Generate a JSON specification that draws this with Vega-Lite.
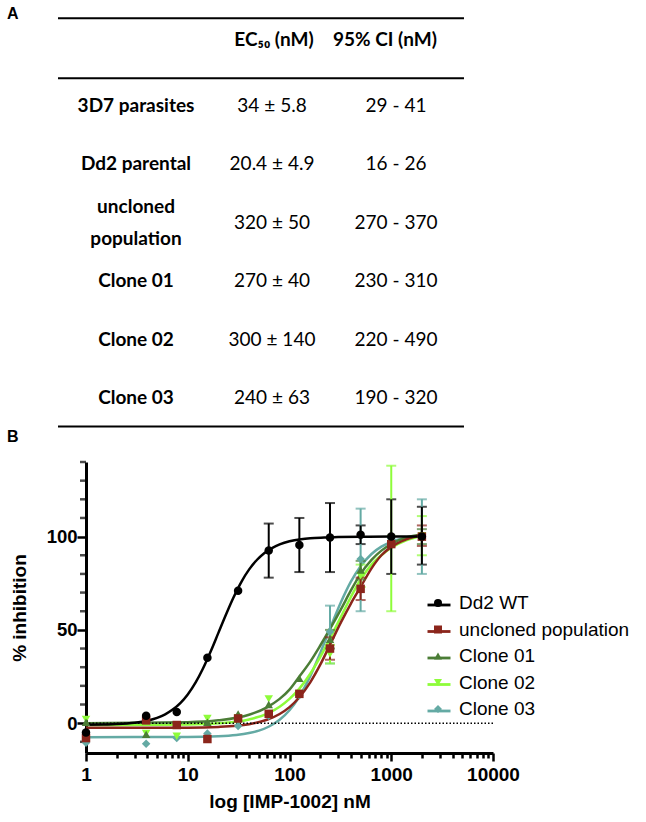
{
  "$schema": "https://vega.github.io/schema/vega-lite/v6.json",
  "background": "white",
  "padding": {"left": 7, "top": 0, "right": 5, "bottom": 5},
  "config": {"view": {"stroke": null}, "axis": {"labelOverlap": false, "labelFlush": false}},
  "spacing": 0,
  "bounds": "flush",
  "resolve": {"scale": {"x": "independent", "y": "independent"}},
  "datasets": {
    "table": [
      {"label": "3D7 parasites", "ec50": "34 ± 5.8", "ci": "29 - 41", "row": 1},
      {"label": "Dd2 parental", "ec50": "20.4 ± 4.9", "ci": "16 - 26", "row": 2},
      {"label": "uncloned\npopulation", "ec50": "320 ± 50", "ci": "270 - 370", "row": 3},
      {"label": "Clone 01", "ec50": "270 ± 40", "ci": "230 - 310", "row": 4},
      {"label": "Clone 02", "ec50": "300 ± 140", "ci": "220 - 490", "row": 5},
      {"label": "Clone 03", "ec50": "240 ± 63", "ci": "190 - 320", "row": 6}
    ],
    "points": [
      {"series": "Clone 03", "conc": 1, "mean": -10.5, "lo": null, "hi": null},
      {"series": "Clone 03", "conc": 3.9, "mean": -11, "lo": null, "hi": null},
      {"series": "Clone 03", "conc": 7.8, "mean": -8, "lo": null, "hi": null},
      {"series": "Clone 03", "conc": 15.6, "mean": -5.5, "lo": null, "hi": null},
      {"series": "Clone 03", "conc": 31.25, "mean": -1.5, "lo": null, "hi": null},
      {"series": "Clone 03", "conc": 62.5, "mean": 4, "lo": null, "hi": null},
      {"series": "Clone 03", "conc": 125, "mean": 15, "lo": null, "hi": null},
      {"series": "Clone 03", "conc": 250, "mean": 49, "lo": 32, "hi": 63},
      {"series": "Clone 03", "conc": 500, "mean": 88, "lo": 60, "hi": 115},
      {"series": "Clone 03", "conc": 1000, "mean": 99, "lo": null, "hi": null},
      {"series": "Clone 03", "conc": 2000, "mean": 100, "lo": 80, "hi": 120},
      {"series": "Clone 02", "conc": 1, "mean": 2, "lo": null, "hi": null},
      {"series": "Clone 02", "conc": 3.9, "mean": -5.5, "lo": null, "hi": null},
      {"series": "Clone 02", "conc": 7.8, "mean": -7, "lo": null, "hi": null},
      {"series": "Clone 02", "conc": 15.6, "mean": 2.5, "lo": null, "hi": null},
      {"series": "Clone 02", "conc": 31.25, "mean": 3, "lo": null, "hi": null},
      {"series": "Clone 02", "conc": 62.5, "mean": 13, "lo": null, "hi": null},
      {"series": "Clone 02", "conc": 125, "mean": 16, "lo": null, "hi": null},
      {"series": "Clone 02", "conc": 250, "mean": 37, "lo": 32, "hi": 42},
      {"series": "Clone 02", "conc": 500, "mean": 79, "lo": 73, "hi": 85},
      {"series": "Clone 02", "conc": 1000, "mean": 99, "lo": 60, "hi": 138},
      {"series": "Clone 02", "conc": 2000, "mean": 100.5, "lo": 90, "hi": 111},
      {"series": "Clone 01", "conc": 1, "mean": 0.5, "lo": null, "hi": null},
      {"series": "Clone 01", "conc": 3.9, "mean": -6, "lo": null, "hi": null},
      {"series": "Clone 01", "conc": 7.8, "mean": -1, "lo": null, "hi": null},
      {"series": "Clone 01", "conc": 15.6, "mean": 0.5, "lo": null, "hi": null},
      {"series": "Clone 01", "conc": 31.25, "mean": 5, "lo": null, "hi": null},
      {"series": "Clone 01", "conc": 62.5, "mean": 10, "lo": null, "hi": null},
      {"series": "Clone 01", "conc": 125, "mean": 24, "lo": null, "hi": null},
      {"series": "Clone 01", "conc": 250, "mean": 45, "lo": 40, "hi": 50},
      {"series": "Clone 01", "conc": 500, "mean": 82, "lo": 77, "hi": 87},
      {"series": "Clone 01", "conc": 1000, "mean": 98, "lo": null, "hi": null},
      {"series": "Clone 01", "conc": 2000, "mean": 100, "lo": 96, "hi": 104},
      {"series": "uncloned population", "conc": 1, "mean": -8, "lo": null, "hi": null},
      {"series": "uncloned population", "conc": 3.9, "mean": 1.5, "lo": null, "hi": null},
      {"series": "uncloned population", "conc": 7.8, "mean": -1, "lo": null, "hi": null},
      {"series": "uncloned population", "conc": 15.6, "mean": -8.5, "lo": null, "hi": null},
      {"series": "uncloned population", "conc": 31.25, "mean": 2.5, "lo": null, "hi": null},
      {"series": "uncloned population", "conc": 62.5, "mean": 5, "lo": null, "hi": null},
      {"series": "uncloned population", "conc": 125, "mean": 15.7, "lo": null, "hi": null},
      {"series": "uncloned population", "conc": 250, "mean": 40, "lo": 34, "hi": 46},
      {"series": "uncloned population", "conc": 500, "mean": 72, "lo": 66, "hi": 78},
      {"series": "uncloned population", "conc": 1000, "mean": 96, "lo": null, "hi": null},
      {"series": "uncloned population", "conc": 2000, "mean": 100, "lo": 95, "hi": 106},
      {"series": "Dd2 WT", "conc": 1, "mean": -5, "lo": null, "hi": null},
      {"series": "Dd2 WT", "conc": 3.9, "mean": 4, "lo": null, "hi": null},
      {"series": "Dd2 WT", "conc": 7.8, "mean": 6, "lo": null, "hi": null},
      {"series": "Dd2 WT", "conc": 15.6, "mean": 35, "lo": null, "hi": null},
      {"series": "Dd2 WT", "conc": 31.25, "mean": 71, "lo": null, "hi": null},
      {"series": "Dd2 WT", "conc": 62.5, "mean": 92.5, "lo": 78, "hi": 107},
      {"series": "Dd2 WT", "conc": 125, "mean": 95.5, "lo": 81, "hi": 110},
      {"series": "Dd2 WT", "conc": 250, "mean": 99.5, "lo": 81, "hi": 118},
      {"series": "Dd2 WT", "conc": 500, "mean": 101, "lo": 96, "hi": 106},
      {"series": "Dd2 WT", "conc": 1000, "mean": 100, "lo": 80, "hi": 120},
      {"series": "Dd2 WT", "conc": 2000, "mean": 100, "lo": 85, "hi": 116}
    ],
    "curves": [
      {"series": "Clone 03", "conc": 1, "fit": -7.5},
      {"series": "Clone 03", "conc": 10, "fit": -7.4},
      {"series": "Clone 03", "conc": 20, "fit": -7},
      {"series": "Clone 03", "conc": 30, "fit": -6.3},
      {"series": "Clone 03", "conc": 40, "fit": -5.3},
      {"series": "Clone 03", "conc": 50, "fit": -4},
      {"series": "Clone 03", "conc": 63, "fit": -1.8},
      {"series": "Clone 03", "conc": 80, "fit": 1.8},
      {"series": "Clone 03", "conc": 100, "fit": 6.9},
      {"series": "Clone 03", "conc": 125, "fit": 14.3},
      {"series": "Clone 03", "conc": 160, "fit": 25.2},
      {"series": "Clone 03", "conc": 200, "fit": 37.4},
      {"series": "Clone 03", "conc": 250, "fit": 50.7},
      {"series": "Clone 03", "conc": 320, "fit": 64.8},
      {"series": "Clone 03", "conc": 400, "fit": 75.7},
      {"series": "Clone 03", "conc": 500, "fit": 84.1},
      {"series": "Clone 03", "conc": 640, "fit": 90.7},
      {"series": "Clone 03", "conc": 800, "fit": 94.6},
      {"series": "Clone 03", "conc": 1000, "fit": 97.2},
      {"series": "Clone 03", "conc": 1400, "fit": 99.4},
      {"series": "Clone 03", "conc": 2000, "fit": 100.5},
      {"series": "Clone 02", "conc": 1, "fit": -1},
      {"series": "Clone 02", "conc": 10, "fit": -0.7},
      {"series": "Clone 02", "conc": 20, "fit": -0.1},
      {"series": "Clone 02", "conc": 40, "fit": 2},
      {"series": "Clone 02", "conc": 60, "fit": 5},
      {"series": "Clone 02", "conc": 80, "fit": 8.8},
      {"series": "Clone 02", "conc": 100, "fit": 13},
      {"series": "Clone 02", "conc": 125, "fit": 18.5},
      {"series": "Clone 02", "conc": 160, "fit": 26.5},
      {"series": "Clone 02", "conc": 200, "fit": 35.4},
      {"series": "Clone 02", "conc": 250, "fit": 45.3},
      {"series": "Clone 02", "conc": 320, "fit": 57},
      {"series": "Clone 02", "conc": 400, "fit": 67.5},
      {"series": "Clone 02", "conc": 500, "fit": 77},
      {"series": "Clone 02", "conc": 640, "fit": 85},
      {"series": "Clone 02", "conc": 800, "fit": 90},
      {"series": "Clone 02", "conc": 1000, "fit": 94},
      {"series": "Clone 02", "conc": 1400, "fit": 98},
      {"series": "Clone 02", "conc": 2000, "fit": 100.5},
      {"series": "Clone 01", "conc": 1, "fit": 0},
      {"series": "Clone 01", "conc": 10, "fit": 0.5},
      {"series": "Clone 01", "conc": 20, "fit": 1.5},
      {"series": "Clone 01", "conc": 40, "fit": 4.5},
      {"series": "Clone 01", "conc": 60, "fit": 8.5},
      {"series": "Clone 01", "conc": 80, "fit": 13},
      {"series": "Clone 01", "conc": 100, "fit": 18},
      {"series": "Clone 01", "conc": 125, "fit": 25},
      {"series": "Clone 01", "conc": 160, "fit": 33},
      {"series": "Clone 01", "conc": 200, "fit": 41.5},
      {"series": "Clone 01", "conc": 250, "fit": 50.5},
      {"series": "Clone 01", "conc": 320, "fit": 61},
      {"series": "Clone 01", "conc": 400, "fit": 71},
      {"series": "Clone 01", "conc": 500, "fit": 80},
      {"series": "Clone 01", "conc": 640, "fit": 87.5},
      {"series": "Clone 01", "conc": 800, "fit": 92.5},
      {"series": "Clone 01", "conc": 1000, "fit": 96},
      {"series": "Clone 01", "conc": 1400, "fit": 99.5},
      {"series": "Clone 01", "conc": 2000, "fit": 101},
      {"series": "uncloned population", "conc": 1, "fit": -2.5},
      {"series": "uncloned population", "conc": 10, "fit": -2.4},
      {"series": "uncloned population", "conc": 20, "fit": -2},
      {"series": "uncloned population", "conc": 40, "fit": -0.55},
      {"series": "uncloned population", "conc": 60, "fit": 1.8},
      {"series": "uncloned population", "conc": 80, "fit": 4.9},
      {"series": "uncloned population", "conc": 100, "fit": 8.6},
      {"series": "uncloned population", "conc": 125, "fit": 13.9},
      {"series": "uncloned population", "conc": 160, "fit": 21.9},
      {"series": "uncloned population", "conc": 200, "fit": 31.2},
      {"series": "uncloned population", "conc": 250, "fit": 42},
      {"series": "uncloned population", "conc": 320, "fit": 54},
      {"series": "uncloned population", "conc": 400, "fit": 64},
      {"series": "uncloned population", "conc": 500, "fit": 73},
      {"series": "uncloned population", "conc": 640, "fit": 83},
      {"series": "uncloned population", "conc": 800, "fit": 90},
      {"series": "uncloned population", "conc": 1000, "fit": 94.5},
      {"series": "uncloned population", "conc": 1400, "fit": 98.5},
      {"series": "uncloned population", "conc": 2000, "fit": 101},
      {"series": "Dd2 WT", "conc": 1, "fit": -0.9},
      {"series": "Dd2 WT", "conc": 1.5, "fit": -0.7},
      {"series": "Dd2 WT", "conc": 2, "fit": -0.5},
      {"series": "Dd2 WT", "conc": 3, "fit": 0.2},
      {"series": "Dd2 WT", "conc": 4, "fit": 1.3},
      {"series": "Dd2 WT", "conc": 5, "fit": 2.8},
      {"series": "Dd2 WT", "conc": 6, "fit": 4.7},
      {"series": "Dd2 WT", "conc": 7, "fit": 7},
      {"series": "Dd2 WT", "conc": 8.5, "fit": 10.9},
      {"series": "Dd2 WT", "conc": 10, "fit": 15.4},
      {"series": "Dd2 WT", "conc": 12, "fit": 22},
      {"series": "Dd2 WT", "conc": 14, "fit": 28.9},
      {"series": "Dd2 WT", "conc": 17, "fit": 39.1},
      {"series": "Dd2 WT", "conc": 20, "fit": 48.4},
      {"series": "Dd2 WT", "conc": 24, "fit": 58.8},
      {"series": "Dd2 WT", "conc": 28, "fit": 67.1},
      {"series": "Dd2 WT", "conc": 34, "fit": 76.2},
      {"series": "Dd2 WT", "conc": 40, "fit": 82.3},
      {"series": "Dd2 WT", "conc": 48, "fit": 87.6},
      {"series": "Dd2 WT", "conc": 56, "fit": 91},
      {"series": "Dd2 WT", "conc": 68, "fit": 94},
      {"series": "Dd2 WT", "conc": 80, "fit": 95.8},
      {"series": "Dd2 WT", "conc": 100, "fit": 97.5},
      {"series": "Dd2 WT", "conc": 130, "fit": 98.6},
      {"series": "Dd2 WT", "conc": 160, "fit": 99.1},
      {"series": "Dd2 WT", "conc": 220, "fit": 99.5},
      {"series": "Dd2 WT", "conc": 300, "fit": 99.8},
      {"series": "Dd2 WT", "conc": 500, "fit": 99.9},
      {"series": "Dd2 WT", "conc": 1000, "fit": 100},
      {"series": "Dd2 WT", "conc": 2000, "fit": 100}
    ]
  },
  "vconcat": [
    {
      "width": 407,
      "height": 462,
      "data": {"name": "table"},
      "layer": [
        {
          "data": {"values": [{"k": "rule"}]},
          "mark": {"type": "rule", "color": "black", "strokeWidth": 2},
          "encoding": {
            "x": {"datum": -0.0688, "type": "quantitative", "scale": {"domain": [0, 1], "nice": false, "zero": false}, "axis": null},
            "x2": {"datum": 0.9287},
            "y": {"datum": -0.502, "type": "quantitative", "scale": {"domain": [-0.815, 7.096], "reverse": true, "nice": false, "zero": false}, "axis": null}
          }
        },
        {
          "data": {"values": [{"k": "rule"}]},
          "mark": {"type": "rule", "color": "black", "strokeWidth": 2},
          "encoding": {
            "x": {"datum": -0.0688, "type": "quantitative", "axis": null},
            "x2": {"datum": 0.9287},
            "y": {"datum": 0.526, "type": "quantitative", "axis": null}
          }
        },
        {
          "data": {"values": [{"k": "rule"}]},
          "mark": {"type": "rule", "color": "black", "strokeWidth": 2},
          "encoding": {
            "x": {"datum": -0.0688, "type": "quantitative", "axis": null},
            "x2": {"datum": 0.9287},
            "y": {"datum": 6.49, "type": "quantitative", "axis": null}
          }
        },
        {
          "data": {"values": [{"k": "head"}]},
          "mark": {"type": "text", "font": "Lato", "fontWeight": "bold", "fontSize": 19, "align": "center", "baseline": "middle", "color": "black"},
          "encoding": {
            "text": {"value": "EC₅₀ (nM)"},
            "x": {"datum": 0.462, "type": "quantitative", "axis": null},
            "y": {"datum": -0.13, "type": "quantitative", "axis": null}
          }
        },
        {
          "data": {"values": [{"k": "head"}]},
          "mark": {"type": "text", "font": "Lato", "fontWeight": "bold", "fontSize": 19, "align": "center", "baseline": "middle", "color": "black"},
          "encoding": {
            "text": {"value": "95% CI (nM)"},
            "x": {"datum": 0.7346, "type": "quantitative", "axis": null},
            "y": {"datum": -0.13, "type": "quantitative", "axis": null}
          }
        },
        {
          "data": {"values": [{"k": "panel"}]},
          "mark": {"type": "text", "font": "Liberation Sans", "fontWeight": "bold", "fontSize": 16, "align": "left", "baseline": "middle", "color": "black"},
          "encoding": {
            "text": {"value": "A"},
            "x": {"datum": -0.1941, "type": "quantitative", "axis": null},
            "y": {"datum": -0.567, "type": "quantitative", "axis": null}
          }
        },
        {
          "data": {"values": [{"k": "panel"}]},
          "mark": {"type": "text", "font": "Liberation Sans", "fontWeight": "bold", "fontSize": 16, "align": "left", "baseline": "middle", "color": "black"},
          "encoding": {
            "text": {"value": "B"},
            "x": {"datum": -0.1941, "type": "quantitative", "axis": null},
            "y": {"datum": 6.676, "type": "quantitative", "axis": null}
          }
        },
        {
          "transform": [{"filter": "datum.row != 3"}],
          "mark": {"type": "text", "font": "Lato", "fontWeight": "bold", "fontSize": 19, "align": "center", "baseline": "middle", "color": "black"},
          "encoding": {
            "text": {"field": "label"},
            "x": {"datum": 0.1229, "type": "quantitative", "axis": null},
            "y": {"field": "row", "type": "quantitative", "axis": null}
          }
        },
        {
          "transform": [{"filter": "datum.row == 3"}],
          "mark": {"type": "text", "font": "Lato", "fontWeight": "bold", "fontSize": 19, "align": "center", "baseline": "middle", "lineBreak": "\n", "lineHeight": 32, "dy": -16, "color": "black"},
          "encoding": {
            "text": {"field": "label"},
            "x": {"datum": 0.1229, "type": "quantitative", "axis": null},
            "y": {"field": "row", "type": "quantitative", "axis": null}
          }
        },
        {
          "mark": {"type": "text", "font": "Lato", "fontSize": 19, "align": "center", "baseline": "middle", "color": "black"},
          "encoding": {
            "text": {"field": "ec50"},
            "x": {"datum": 0.457, "type": "quantitative", "axis": null},
            "y": {"field": "row", "type": "quantitative", "axis": null}
          }
        },
        {
          "mark": {"type": "text", "font": "Lato", "fontSize": 19, "align": "center", "baseline": "middle", "color": "black"},
          "encoding": {
            "text": {"field": "ci"},
            "x": {"datum": 0.7617, "type": "quantitative", "axis": null},
            "y": {"field": "row", "type": "quantitative", "axis": null}
          }
        }
      ]
    },
    {
      "width": 407,
      "height": 291,
      "resolve": {"legend": {"color": "independent", "shape": "independent"}},
      "layer": [
        {
          "data": {"name": "curves"},
          "mark": {"type": "line", "interpolate": "monotone", "strokeWidth": 2.5},
          "encoding": {
            "x": {
              "field": "conc", "type": "quantitative", "title": "log [IMP-1002] nM",
              "scale": {"type": "log", "domain": [1, 10000], "nice": false},
              "axis": {
                "values": [1, 2, 3, 4, 5, 6, 7, 8, 9, 10, 20, 30, 40, 50, 60, 70, 80, 90, 100, 200, 300, 400, 500, 600, 700, 800, 900, 1000, 2000, 3000, 4000, 5000, 6000, 7000, 8000, 9000, 10000],
                "labelExpr": "indexof([1, 10, 100, 1000, 10000], datum.value) >= 0 ? format(datum.value, 'd') : ''",
                "tickSize": {"condition": {"test": "indexof([1, 10, 100, 1000, 10000], datum.value) >= 0", "value": 8}, "value": 5},
                "tickWidth": 2.5, "tickColor": "black",
                "domainColor": "black", "domainWidth": 3,
                "labelFont": "Liberation Sans", "labelFontWeight": "bold", "labelFontSize": 19, "labelColor": "black",
                "labelPadding": 4, "labelFlush": false, "labelOverlap": false,
                "grid": false,
                "titleFont": "Liberation Sans", "titleFontWeight": "bold", "titleFontSize": 19, "titleColor": "black", "titlePadding": 8
              }
            },
            "y": {
              "field": "fit", "type": "quantitative", "title": "% inhibition",
              "scale": {"domain": [-16, 140], "nice": false, "zero": false},
              "axis": {
                "values": [0, 50, 100],
                "tickSize": 9,
                "tickWidth": 2.5, "tickColor": "black",
                "domainColor": "black", "domainWidth": 3,
                "labelFont": "Liberation Sans", "labelFontWeight": "bold", "labelFontSize": 18.5, "labelColor": "black",
                "labelPadding": 0, "labelFlush": false, "labelOverlap": false,
                "grid": false,
                "titleFont": "Liberation Sans", "titleFontWeight": "bold", "titleFontSize": 19, "titleColor": "black", "titlePadding": 17
              }
            },
            "color": {
              "field": "series", "type": "nominal",
              "scale": {"domain": ["Dd2 WT", "uncloned population", "Clone 01", "Clone 02", "Clone 03"], "range": ["#000000", "#8b251b", "#4b7d36", "#8efc3a", "#64aaa4"]},
              "legend": null
            }
          }
        },
        {
          "data": {"values": [{"v": -10}, {"v": 10}, {"v": 20}, {"v": 30}, {"v": 40}, {"v": 60}, {"v": 70}, {"v": 80}, {"v": 90}, {"v": 110}, {"v": 120}, {"v": 130}, {"v": 140}]},
          "mark": {"type": "tick", "orient": "horizontal", "size": 6, "thickness": 2.5, "xOffset": -3, "color": "black", "clip": false},
          "encoding": {
            "x": {"datum": 1, "type": "quantitative", "title": "log [IMP-1002] nM"},
            "y": {"field": "v", "type": "quantitative", "title": "% inhibition"}
          }
        },
        {
          "data": {"values": [{"k": "zero"}]},
          "mark": {"type": "rule", "color": "black", "strokeWidth": 1.5, "strokeDash": [1.5, 2]},
          "encoding": {
            "y": {"datum": 0, "type": "quantitative", "title": "% inhibition"}
          }
        },
        {
          "data": {"name": "points"},
          "transform": [{"filter": "isValid(datum.lo)"}],
          "mark": {"type": "errorbar", "ticks": {"size": 10, "thickness": 2}, "rule": {"strokeWidth": 2}},
          "encoding": {
            "x": {"field": "conc", "type": "quantitative", "title": "log [IMP-1002] nM"},
            "y": {"field": "lo", "type": "quantitative", "title": "% inhibition"},
            "y2": {"field": "hi"},
            "color": {
              "field": "series", "type": "nominal",
              "legend": {
                "title": null, "orient": "none", "legendX": 340, "legendY": 130, "padding": 0,
                "symbolType": "stroke", "symbolSize": 529, "symbolStrokeWidth": 2.8, "symbolOpacity": 1,
                "labelFont": "Liberation Sans", "labelFontSize": 19, "labelColor": "black", "labelOpacity": 0, "labelOffset": 4, "labelLimit": 400,
                "rowPadding": 3.5
              }
            }
          }
        },
        {
          "data": {"name": "points"},
          "mark": {"type": "point", "filled": true, "size": 72, "opacity": 1},
          "encoding": {
            "x": {"field": "conc", "type": "quantitative", "title": "log [IMP-1002] nM"},
            "y": {"field": "mean", "type": "quantitative", "title": "% inhibition"},
            "color": {
              "field": "series", "type": "nominal",
              "legend": {
                "title": null, "orient": "none", "legendX": 342.5, "legendY": 131.5, "padding": 0,
                "symbolSize": 64, "symbolStrokeWidth": 0, "symbolOpacity": 1,
                "labelFont": "Liberation Sans", "labelFontSize": 19, "labelColor": "black", "labelOffset": 11.5, "labelLimit": 400,
                "rowPadding": 6.5
              }
            },
            "shape": {
              "field": "series", "type": "nominal",
              "scale": {"domain": ["Dd2 WT", "uncloned population", "Clone 01", "Clone 02", "Clone 03"], "range": ["circle", "square", "triangle-up", "triangle-down", "diamond"]},
              "legend": {
                "title": null, "orient": "none", "legendX": 342.5, "legendY": 131.5, "padding": 0,
                "symbolSize": 64, "symbolStrokeWidth": 0, "symbolOpacity": 1,
                "labelFont": "Liberation Sans", "labelFontSize": 19, "labelColor": "black", "labelOffset": 11.5, "labelLimit": 400,
                "rowPadding": 6.5
              }
            }
          }
        }
      ]
    }
  ]
}
